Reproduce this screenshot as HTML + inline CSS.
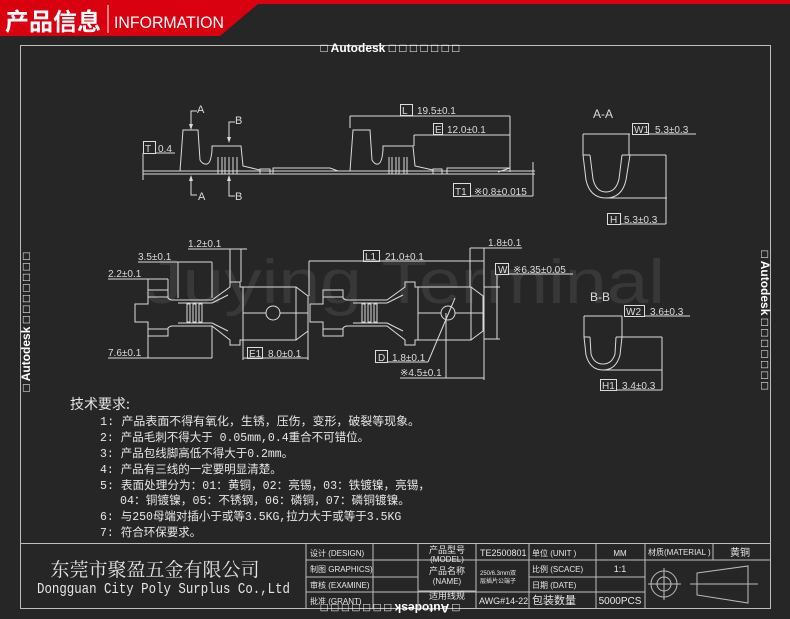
<!DOCTYPE html>
<html><head><meta charset="utf-8"><style>
html,body{margin:0;padding:0;background:#262626;}
svg{display:block;}
</style></head><body>
<svg width="790" height="619" viewBox="0 0 790 619" xmlns="http://www.w3.org/2000/svg" font-family="Liberation Sans, Noto Sans CJK SC, sans-serif">
<rect width="790" height="619" fill="#262626"/>
<!-- header -->
<polygon points="0,0 790,0 790,4 258,4 220,36 0,36" fill="#d9000f"/>
<text x="5" y="30" font-size="24" font-weight="bold" fill="#fff" font-family="Noto Sans CJK SC, sans-serif" textLength="96" lengthAdjust="spacingAndGlyphs">产品信息</text>
<line x1="108" y1="5" x2="108" y2="33" stroke="#fff" stroke-width="1"/>
<text x="114" y="28" font-size="17" fill="#fff" textLength="110" lengthAdjust="spacingAndGlyphs">INFORMATION</text>

<!-- frame -->
<g stroke="#bdbdbd" fill="none" stroke-width="1">
<rect x="20.5" y="45.5" width="750" height="563"/>
<line x1="20" y1="543.5" x2="771" y2="543.5"/>
</g>
<!-- autodesk markers -->
<text x="390" y="52" font-size="12" font-weight="bold" fill="#fff" text-anchor="middle">□ Autodesk □ □ □ □ □ □ □</text>
<text transform="translate(390,604) rotate(180)" font-size="12" font-weight="bold" fill="#fff" text-anchor="middle">□ Autodesk □ □ □ □ □ □ □</text>
<text transform="translate(30,322) rotate(-90)" font-size="12" font-weight="bold" fill="#fff" text-anchor="middle">□ Autodesk □ □ □ □ □ □ □</text>
<text transform="translate(761,320) rotate(90)" font-size="12" font-weight="bold" fill="#fff" text-anchor="middle">□ Autodesk □ □ □ □ □ □ □</text>

<!-- watermark -->
<text x="145" y="303" font-size="62" fill="#444" fill-opacity="0.6" textLength="520" lengthAdjust="spacingAndGlyphs">Juying Terminal</text>

<g stroke="#dcdcdc" fill="none" stroke-width="1">
<!-- top side view -->
<line x1="143" y1="171" x2="535" y2="171"/>
<line x1="143" y1="174" x2="535" y2="174"/>
<path d="M168,171 L180,171 L183,130 L198,130 L200,160 Q203,165 207,164 Q211,163 212,150 L212,146 L241,146 L243,166 L260,170"/>
<path d="M218,157 V174 M222,157 V174 M225,157 V174 M229,157 V174 M233,157 V174 M237,157 V174"/>
<rect x="260" y="169" width="10" height="5"/>
<path d="M273,174 V168 L330,168 L338,171"/>
<path d="M338,171 L350,171 L353,130 L370,130 L372,160 Q375,165 378,164 Q382,163 383,150 L383,146 L413,146 L415,166 L433,170"/>
<path d="M389,157 V174 M392,157 V174 M396,157 V174 M399,157 V174 M404,157 V174 M407,157 V174"/>
<rect x="433" y="169" width="9" height="5"/>
<path d="M447,174 V168 L510,168 L498,172"/>
<!-- dims top -->
<line x1="350" y1="116" x2="510" y2="116"/>
<line x1="350" y1="116" x2="350" y2="128"/>
<line x1="510" y1="116" x2="510" y2="172"/>
<line x1="414" y1="135" x2="510" y2="135"/>
<line x1="414" y1="135" x2="414" y2="146"/>
<rect x="400.5" y="104.5" width="12" height="11"/>
<rect x="433.5" y="123.5" width="9" height="11"/>
<line x1="533" y1="162" x2="533" y2="196"/>
<rect x="453.5" y="183.5" width="17" height="13"/>
<line x1="470" y1="196" x2="533" y2="196"/>
<rect x="143.5" y="141.5" width="12" height="12"/>
<line x1="155" y1="153" x2="175" y2="153"/>
<line x1="143" y1="153" x2="143" y2="180"/>
<path d="M191,125 V111 H197 M191,178 V195 H197 M229,137 V122 H235 M229,181 V196 H235"/>
</g>
<g fill="#dcdcdc">
<polygon points="189,124 193,124 191,130"/>
<polygon points="189,181 193,181 191,175"/>
<polygon points="227,137 231,137 229,143"/>
<polygon points="227,181 231,181 229,175"/>
</g>
<g fill="#dcdcdc" font-size="11" font-family="Liberation Sans, sans-serif">
<text x="197" y="113">A</text><text x="198" y="200">A</text>
<text x="235" y="124">B</text><text x="235" y="200">B</text>
<text x="402" y="114" font-size="10">L</text><text x="417" y="114" font-size="10">19.5±0.1</text>
<text x="435" y="133" font-size="10">E</text><text x="447" y="133" font-size="10">12.0±0.1</text>
<text x="145" y="152" font-size="10">T</text><text x="158" y="152" font-size="10">0.4</text>
<text x="455" y="195" font-size="10">T1</text><text x="474" y="195" font-size="10">※0.8±0.015</text>
</g>

<!-- bottom top view: two terminals -->
<g stroke="#dcdcdc" fill="none" stroke-width="1" id="term">
<path d="M135,304 H148 V290 H168 V298 Q170,300 172,300 H178 L212,300 L230,287 V282 H240 V287 H243 V340 H240 V345 H230 V340 L212,326 H178 L172,326 Q170,326 168,328 V336 H148 V322 H135 Z"/>
<path d="M148,297 H168 M148,329 H168 M178,303 H212 M178,323 H212 M212,303 L228,295 M212,323 L228,331"/>
<rect x="187" y="304" width="3" height="18"/><rect x="193" y="304" width="3" height="18"/><rect x="199" y="304" width="3" height="18"/>
<path d="M243,287 H296 L308,296 V331 L296,340 H243"/>
<path d="M243,313 H266 M280,313 H308 M296,287 V340"/>
<circle cx="273" cy="313" r="7"/>
</g>
<use href="#term" transform="translate(175,0)"/>
<g stroke="#dcdcdc" fill="none" stroke-width="1">
<line x1="188" y1="249" x2="247" y2="249"/><line x1="230" y1="249" x2="230" y2="282"/><line x1="241" y1="249" x2="241" y2="282"/>
<line x1="138" y1="262" x2="212" y2="262"/><line x1="178" y1="262" x2="178" y2="298"/><line x1="212" y1="262" x2="212" y2="298"/>
<line x1="108" y1="279" x2="168" y2="279"/><line x1="148" y1="279" x2="148" y2="290"/><line x1="168" y1="279" x2="168" y2="290"/>
<line x1="108" y1="358" x2="212" y2="358"/><line x1="148" y1="336" x2="148" y2="358"/><line x1="212" y1="326" x2="212" y2="358"/>
<rect x="247.5" y="347.5" width="15" height="11"/><line x1="243" y1="358" x2="308" y2="358"/><line x1="243" y1="340" x2="243" y2="360"/><line x1="308" y1="331" x2="308" y2="360"/>
<line x1="309" y1="261" x2="484" y2="261"/><line x1="309" y1="261" x2="309" y2="296"/><rect x="363.5" y="250.5" width="16" height="11"/>
<line x1="470" y1="248" x2="522" y2="248"/><line x1="470" y1="248" x2="470" y2="287"/><line x1="484" y1="248" x2="484" y2="380"/>
<rect x="495.5" y="263.5" width="13" height="11"/><line x1="508" y1="274" x2="573" y2="274"/><line x1="497" y1="274" x2="497" y2="339"/>
<line x1="484" y1="287" x2="500" y2="287"/><line x1="484" y1="339" x2="500" y2="339"/>
<rect x="375.5" y="350.5" width="12" height="12"/><line x1="387" y1="362" x2="428" y2="362"/><line x1="428" y1="362" x2="455" y2="298"/>
<line x1="400" y1="378" x2="484" y2="378"/><line x1="446" y1="313" x2="446" y2="378"/>
</g>
<g fill="#dcdcdc" font-size="10" font-family="Liberation Sans, sans-serif">
<text x="188" y="247">1.2±0.1</text>
<text x="138" y="260">3.5±0.1</text>
<text x="108" y="277">2.2±0.1</text>
<text x="108" y="356">7.6±0.1</text>
<text x="249" y="357">E1</text><text x="268" y="357">8.0±0.1</text>
<text x="365" y="260">L1</text><text x="385" y="260">21.0±0.1</text>
<text x="488" y="246">1.8±0.1</text>
<text x="498" y="273">W</text><text x="513" y="273">※6.35±0.05</text>
<text x="378" y="361">D</text><text x="392" y="361">1.8±0.1</text>
<text x="400" y="376">※4.5±0.1</text>
</g>

<!-- sections -->
<g stroke="#dcdcdc" fill="none" stroke-width="1">
<line x1="583" y1="134" x2="630" y2="134"/><line x1="583" y1="134" x2="583" y2="155"/><line x1="629" y1="134" x2="629" y2="155"/>
<rect x="632.5" y="123.5" width="16" height="11"/><line x1="648" y1="134" x2="696" y2="134"/>
<path d="M583,155 L586,180 Q590,198 606,198 Q622,198 626,180 L630,155 M590,155 L593,179 Q596,192 606,192 Q616,192 619,179 L622,155 M583,155 H590 M622,155 H630"/>
<line x1="630" y1="155" x2="666" y2="155"/><line x1="606" y1="198" x2="667" y2="198"/><line x1="666" y1="155" x2="666" y2="224"/>
<rect x="607.5" y="213.5" width="13" height="11"/><line x1="620" y1="224" x2="666" y2="224"/>
<line x1="584" y1="316" x2="622" y2="316"/><line x1="584" y1="316" x2="584" y2="337"/><line x1="622" y1="316" x2="622" y2="337"/>
<rect x="624.5" y="305.5" width="20" height="11"/><line x1="644" y1="316" x2="690" y2="316"/>
<path d="M584,337 L586,355 Q590,370 603,370 Q616,370 620,355 L622,337 M590,337 L591,354 Q594,364 603,364 Q612,364 615,354 L616,337 M584,337 H590 M616,337 H622"/>
<line x1="622" y1="337" x2="662" y2="337"/><line x1="603" y1="370" x2="662" y2="370"/><line x1="662" y1="337" x2="662" y2="390"/>
<rect x="600.5" y="379.5" width="16" height="11"/><line x1="616" y1="390" x2="662" y2="390"/>
</g>
<g fill="#dcdcdc" font-size="10">
<text x="593" y="118" font-size="12">A-A</text>
<text x="634" y="133">W1</text><text x="655" y="133">5.3±0.3</text>
<text x="610" y="223">H</text><text x="624" y="223">5.3±0.3</text>
<text x="590" y="301" font-size="12">B-B</text>
<text x="626" y="315">W2</text><text x="650" y="315">3.6±0.3</text>
<text x="602" y="389">H1</text><text x="622" y="389">3.4±0.3</text>
</g>

<!-- tech requirements -->
<g fill="#e6e6e6" font-family="Liberation Mono, Noto Sans CJK SC, sans-serif" font-size="11.5">
<text x="70" y="409" font-size="14" font-family="Noto Sans CJK SC, sans-serif">技术要求:</text>
<text x="100" y="425" textLength="320" lengthAdjust="spacingAndGlyphs">1: 产品表面不得有氧化，生锈，压伤，变形，破裂等现象。</text>
<text x="100" y="441">2: 产品毛刺不得大于 0.05mm,0.4重合不可错位。</text>
<text x="100" y="457">3: 产品包线脚高低不得大于0.2mm。</text>
<text x="100" y="473">4: 产品有三线的一定要明显清楚。</text>
<text x="100" y="489" textLength="330" lengthAdjust="spacingAndGlyphs">5: 表面处理分为：01：黄铜，02：亮锡，03：铁镀镍，亮锡，</text>
<text x="120" y="504" textLength="290" lengthAdjust="spacingAndGlyphs">04：铜镀镍，05：不锈钢，06：磷铜，07：磷铜镀镍。</text>
<text x="100" y="520">6: 与250母端对插小于或等3.5KG,拉力大于或等于3.5KG</text>
<text x="100" y="536">7: 符合环保要求。</text>
</g>

<!-- title block -->
<g stroke="#bdbdbd" fill="none" stroke-width="1">
<line x1="306" y1="543" x2="306" y2="608"/><line x1="373" y1="543" x2="373" y2="608"/>
<line x1="418" y1="543" x2="418" y2="608"/><line x1="476" y1="543" x2="476" y2="608"/>
<line x1="529" y1="543" x2="529" y2="608"/><line x1="596" y1="543" x2="596" y2="608"/>
<line x1="645" y1="543" x2="645" y2="608"/><line x1="713" y1="543" x2="713" y2="560"/>
<line x1="306" y1="560" x2="645" y2="560"/><line x1="645" y1="560" x2="771" y2="560"/>
<line x1="306" y1="577" x2="418" y2="577"/><line x1="529" y1="577" x2="645" y2="577"/>
<line x1="306" y1="592" x2="645" y2="592"/>
<line x1="418" y1="591" x2="476" y2="591"/>
<circle cx="664" cy="584" r="13"/><circle cx="664" cy="584" r="7"/>
<line x1="648" y1="584" x2="681" y2="584"/><line x1="664" y1="568" x2="664" y2="600"/>
<path d="M697,573 L748,566 V603 L697,595 Z"/><line x1="690" y1="584" x2="758" y2="584"/>
</g>
<g fill="#e6e6e6" font-family="Liberation Sans, Noto Sans CJK SC, sans-serif" font-size="8">
<text x="155" y="576" font-size="19" text-anchor="middle" font-family="Noto Serif CJK SC, serif">东莞市聚盈五金有限公司</text>
<text x="37" y="593" font-size="15" font-family="Liberation Mono, monospace" textLength="253" lengthAdjust="spacingAndGlyphs">Dongguan City Poly Surplus Co.,Ltd</text>
<text x="310" y="556">设计 (DESIGN)</text>
<text x="310" y="572">制图 GRAPHICS)</text>
<text x="310" y="588">审核 (EXAMINE)</text>
<text x="310" y="604">批准 (GRANT)</text>
<text x="447" y="553" text-anchor="middle" font-size="9">产品型号</text>
<text x="447" y="562" text-anchor="middle">(MODEL)</text>
<text x="447" y="574" text-anchor="middle" font-size="9">产品名称</text>
<text x="447" y="584" text-anchor="middle">(NAME)</text>
<text x="447" y="599" text-anchor="middle" font-size="9">适用线规</text>
<text x="480" y="556" font-size="9">TE2500801</text>
<text x="480" y="575" font-size="6">250/6.3mm双</text>
<text x="480" y="583" font-size="6">层插片公端子</text>
<text x="479" y="604" font-size="9">AWG#14-22</text>
<text x="532" y="556">单位 (UNIT )</text>
<text x="532" y="572">比例 (SCACE)</text>
<text x="532" y="588">日期 (DATE)</text>
<text x="532" y="604" font-size="11">包装数量</text>
<text x="620" y="556" text-anchor="middle">MM</text>
<text x="620" y="572" text-anchor="middle" font-size="9">1:1</text>
<text x="620" y="604" text-anchor="middle" font-size="10">5000PCS</text>
<text x="648" y="555">材质(MATERIAL  )</text>
<text x="730" y="556" font-size="10">黄铜</text>
</g>
</svg>
</body></html>
